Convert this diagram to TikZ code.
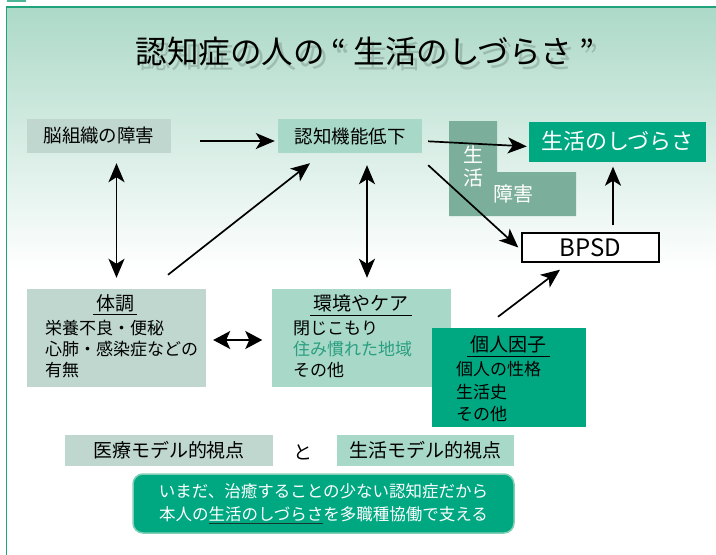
\documentclass[tikz,border=0pt]{standalone}
\usepackage{fontspec}
\setmainfont{Noto Sans CJK JP}
\usetikzlibrary{arrows.meta,positioning}

\definecolor{panelline}{HTML}{1FA37B}
\definecolor{paneltop}{HTML}{ACD9C8}
\definecolor{panelmid}{HTML}{DAEEE6}
\definecolor{boxgray}{HTML}{BFD7CF}
\definecolor{boxmint}{HTML}{A8D8C8}
\definecolor{boxteal}{HTML}{00A882}
\definecolor{boxdark}{HTML}{7BAF9C}
\definecolor{textmint}{HTML}{2A9F80}
\definecolor{roundline}{HTML}{80CFB5}
\definecolor{ulinedark}{HTML}{17362C}

\newcommand{\fsTitle}{\fontsize{31.5}{36}\selectfont}
\newcommand{\fsBox}{\fontsize{18.5}{22}\selectfont}
\newcommand{\fsHead}{\fontsize{19}{22}\selectfont}
\newcommand{\fsBody}{\fontsize{17}{21}\selectfont}
\newcommand{\fsMsg}{\fontsize{16.5}{23}\selectfont}

\tikzset{
  graybox/.style={fill=boxgray, inner sep=0pt, font=\fsBox},
  mintbox/.style={fill=boxmint, inner sep=0pt, font=\fsBox},
  tealbox/.style={fill=boxteal, inner sep=0pt},
  headtxt/.style={font=\fsHead, inner xsep=3pt, inner ysep=0pt, text height=15pt, text depth=4pt},
  bodytxt/.style={font=\fsBody, inner sep=0pt, anchor=west},
  arr/.style={-{Stealth[length=19pt,width=16pt,inset=5pt]}, line width=1.7pt},
  dbl/.style={{Stealth[length=19pt,width=16pt,inset=5pt]}-{Stealth[length=19pt,width=16pt,inset=5pt]}, line width=1.7pt},
  fatdbl/.style={{Stealth[length=17pt,width=18pt,inset=4pt]}-{Stealth[length=17pt,width=18pt,inset=4pt]}, line width=1.7pt}
}

\begin{document}
\begin{tikzpicture}[x=1pt, y=-1pt]
    \useasboundingbox (0,0) rectangle (716,555);

    % Panel
    \fill[panelline!80] (7,0) rectangle (26,2);
    \shade[top color=paneltop, middle color=panelmid, bottom color=white] (6,7) rectangle (716,270);
    \draw[panelline, line width=1.5pt] (6.5,555) -- (6.5,7) -- (716,7);

    % Title (with soft shadow)
    \node[font=\fsTitle, text=black, opacity=0.16, anchor=base] (tshadow) at (369,68) {認知症の人の “ 生活のしづらさ ”};
    \node[font=\fsTitle, anchor=base] (title) at (365,63) {認知症の人の “ 生活のしづらさ ”};

    % Top row
    \node[graybox, minimum width=144pt, minimum height=34pt] (brain) at (99,136) {脳組織の障害};
    \node[mintbox, minimum width=144pt, minimum height=34pt] (ninchi) at (350,136) {認知機能低下};

    % Seikatsu shougai (L shape)
    \fill[boxdark] (449,121) -- (497,121) -- (497,172) -- (576,172) -- (576,216) -- (449,216) -- cycle;
    \node[font=\fontsize{20}{22}\selectfont, text=white, inner sep=0pt] (sei) at (473,155) {生};
    \node[font=\fontsize{20}{22}\selectfont, text=white, inner sep=0pt] (katsu) at (473,178) {活};
    \node[font=\fontsize{20}{22}\selectfont, text=white, inner sep=0pt] (shogai) at (513,194) {障害};

    \node[tealbox, minimum width=177pt, minimum height=40pt, text=white, font=\fontsize{22}{26}\selectfont] (shiduras) at (617.5,141.5) {生活のしづらさ};
    \node[draw=black, line width=1.4pt, fill=white, inner sep=0pt, minimum width=137pt, minimum height=29pt, font=\fontsize{24}{26}\selectfont] (bpsd) at (590.5,247.5) {BPSD};

    % Middle row: taicho
    \node[graybox, minimum width=179pt, minimum height=98pt] (taicho) at (116.5,338) {};
    \node[headtxt] (taichoT) at (115,304.7) {体調};
    \draw[line width=0.8pt] (taichoT.south west) -- (taichoT.south east);
    \node[bodytxt] (taicho1) at (45,328) {栄養不良・便秘};
    \node[bodytxt] (taicho2) at (45,349) {心肺・感染症などの};
    \node[bodytxt] (taicho3) at (45,370) {有無};

    % Middle row: kankyo
    \node[mintbox, minimum width=179pt, minimum height=98pt] (kankyo) at (361,338) {};
    \node[headtxt] (kankyoT) at (361,305.2) {環境やケア};
    \draw[line width=0.8pt] (kankyoT.south west) -- (kankyoT.south east);
    \node[bodytxt] (kankyo1) at (293,328) {閉じこもり};
    \node[bodytxt, text=textmint] (kankyo2) at (293,349) {住み慣れた地域};
    \node[bodytxt] (kankyo3) at (293,370) {その他};

    % Kojin inshi
    \node[tealbox, minimum width=154pt, minimum height=99pt] (kojin) at (509,377.5) {};
    \node[headtxt] (kojinT) at (508.5,346.2) {個人因子};
    \draw[line width=0.8pt] (kojinT.south west) -- (kojinT.south east);
    \node[bodytxt] (kojin1) at (456,369) {個人の性格};
    \node[bodytxt] (kojin2) at (456,392) {生活史};
    \node[bodytxt] (kojin3) at (456,414) {その他};

    % Bottom
    \node[graybox, minimum width=208pt, minimum height=31pt, font=\fsHead] (iryo) at (169,450.5) {医療モデル的視点};
    \node[font=\fsHead, inner sep=0pt] (and) at (303,452) {と};
    \node[mintbox, minimum width=177pt, minimum height=31pt, font=\fsHead] (seikatsu) at (425.5,450.5) {生活モデル的視点};
    \node[fill=boxteal, draw=roundline, line width=1.5pt, rounded corners=10pt, minimum width=381pt, minimum height=59pt,
          text=white, font=\fsMsg, align=center, inner sep=0pt] (msg) at (323.5,503.5)
          {いまだ、治癒することの少ない認知症だから\\本人の{\color{ulinedark}\underline{\color{white}生活のしづらさ}}を多職種協働で支える};

    % Edges
    \coordinate (kk) at ([xshift=6pt]kankyo.north);
    \coordinate (bp) at ([xshift=22.5pt]bpsd.north);
    \draw[arr, shorten <=29pt, shorten >=3pt] ([yshift=-5pt]brain.east) -- ([yshift=-5pt]ninchi.west);
    \draw[arr, shorten <=6pt, shorten >=2pt] ([yshift=-5pt]ninchi.east) -- ([yshift=-5pt]shiduras.west);
    \draw[arr] ([xshift=6pt,yshift=-12pt]ninchi.south east) -- ([xshift=-3pt]bpsd.west);
    \draw[arr, shorten <=7pt, shorten >=5pt] (bp) -- (bp |- shiduras.south);
    \draw[arr] ([xshift=-11pt,yshift=11pt]kojin.north) -- ([xshift=-30.5pt,yshift=-7pt]bpsd.south);
    \draw[arr] ([xshift=51.5pt,yshift=14pt]taicho.north) -- ([xshift=-40pt,yshift=-10pt]ninchi.south);
    \draw[dbl, shorten <=10pt, shorten >=11pt] (taicho.north |- brain.south) -- (taicho.north);
    \draw[dbl, shorten <=12pt, shorten >=11pt] (kk |- ninchi.south) -- (kk);
    \draw[fatdbl, shorten <=7pt, shorten >=9pt] ([yshift=-2pt]taicho.east) -- ([yshift=-2pt]kankyo.west);
\end{tikzpicture}
\end{document}
